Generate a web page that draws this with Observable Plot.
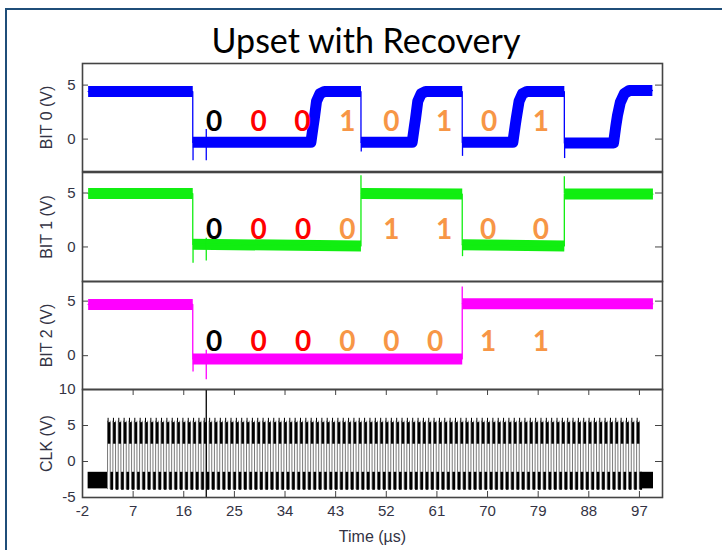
<!DOCTYPE html>
<html><head><meta charset="utf-8">
<script src="https://cdn.jsdelivr.net/npm/d3@7"></script>
<script src="https://cdn.jsdelivr.net/npm/@observablehq/plot@0.6"></script>
<style>
html,body{margin:0;padding:0;background:#fff;overflow:hidden;}
#page{position:relative;width:722px;height:550px;overflow:hidden;background:#fff;}
#border{position:absolute;left:5px;top:8px;width:800px;height:700px;border:2.5px solid #1F4E79;}
#title{position:absolute;left:0;width:732px;top:20px;line-height:40px;text-align:center;font-family:Lato,sans-serif;font-size:34px;color:#000;}
</style></head>
<body><div id="page"><div id="border"></div><div id="title">Upset with Recovery</div></div>
<script>
// ---------- data ----------
const xTicks = [-2, 7, 16, 25, 34, 43, 52, 61, 70, 79, 88, 97];
const bitTicks = [0, 5];
const clkTicks = [-5, 0, 5, 10];

// [segment, time (µs), volts] – centre of the noisy trace
const bit0Trace = [
  [0, -1.0, 4.4], [0, 17.6, 4.4],
  [1, 17.6, -0.3], [1, 38.6, -0.3], [1, 39.0, 1.2], [1, 39.2, 1.9], [1, 39.6, 3.5], [1, 40.2, 4.2], [1, 41.0, 4.4], [1, 47.5, 4.4],
  [2, 47.5, -0.3], [2, 56.6, -0.3], [2, 57.0, 1.2], [2, 57.2, 1.9], [2, 57.6, 3.5], [2, 58.2, 4.2], [2, 59.0, 4.4], [2, 65.5, 4.4],
  [3, 65.5, -0.3], [3, 74.5, -0.3], [3, 74.9, 1.2], [3, 75.1, 1.9], [3, 75.6, 3.5], [3, 76.2, 4.2], [3, 77.0, 4.4], [3, 83.65, 4.4],
  [4, 83.65, -0.35], [4, 92.4, -0.35], [4, 92.8, 1.2], [4, 93.1, 2.2], [4, 93.6, 3.4], [4, 94.3, 4.2], [4, 95.2, 4.5], [4, 99.3, 4.5]
];
// [time, from V, to V] – glitches
const bit0Spikes = [[17.65, -0.3, -2.0], [20.0, -2.0, 0.9], [47.55, -0.3, -1.2], [65.55, -0.3, -1.6], [83.7, -0.35, -1.8]];

const bit1Trace = [
  [0, -1.0, 4.95], [0, 17.6, 4.95],
  [1, 17.6, 0.25], [1, 47.5, 0.1],
  [2, 47.5, 4.95], [2, 65.5, 4.9],
  [3, 65.5, 0.2], [3, 83.65, 0.1],
  [4, 83.65, 4.9], [4, 99.4, 4.9]
];
const bit1Spikes = [[17.65, 0.2, -1.5], [20.0, -1.3, 0.8], [47.5, 4.9, 6.6], [65.55, 0.2, -0.9], [83.65, 4.9, 6.5]];

const bit2Trace = [
  [0, -1.0, 4.7], [0, 17.6, 4.7],
  [1, 17.6, -0.3], [1, 65.5, -0.3],
  [2, 65.5, 4.75], [2, 99.4, 4.75]
];
const bit2Spikes = [[17.65, -0.3, -1.5], [20.0, -2.2, 0.5], [65.5, 4.7, 6.3]];

// clock
const clkIdle = [[-1.0, 2.45], [97.1, 99.5]];
const clkIdleBand = [-3.8, -1.5];
const clkStart = 2.45, clkStop = 97.1, clkPeriod = 0.95;
const clkHighBand = [2.4, 5.4];
const clkLowBand = [-4.0, -1.5];
const clkEdgeSpan = [-3.9, 5.6];
const clkOvershoot = 6.0;
const markerTime = 20.0;

// bit labels
const digitColors = ["#000000", "#FF0000", "#FF0000", "#F79646", "#F79646", "#F79646", "#F79646", "#F79646"];
const bit0Digits = ["0", "0", "0", "1", "0", "1", "0", "1"];
const bit0DigitTimes = [21.4, 29.3, 37.1, 45.1, 52.9, 62.3, 70.3, 79.5];
const bit0DigitV = 1.6;
const bit1Digits = ["0", "0", "0", "0", "1", "1", "0", "0"];
const bit1DigitTimes = [21.4, 29.3, 37.2, 45.1, 52.9, 62.3, 70.1, 79.5];
const bit1DigitV = 1.55;
const bit2Digits = ["0", "0", "0", "0", "0", "0", "1", "1"];
const bit2DigitTimes = [21.4, 29.3, 37.2, 45.1, 52.9, 60.7, 70.1, 79.5];
const bit2DigitV = 1.25;

// ---------- drawing ----------
const page = document.getElementById("page");
const W = 722, ML = 82, MR = 60, FW = W - ML - MR;
const xDomain = [-2, 101.1];
const fontAxis = "'Liberation Sans', Arial, sans-serif";
const axisColor = "#333344";

function traceMarks(trace, spikes, color) {
  return [
    Plot.line(trace, {x: d => d[1], y: d => d[2], z: d => d[0], stroke: color, strokeWidth: 11, strokeLinecap: "butt", strokeLinejoin: "round"}),
    Plot.line(trace, {x: d => d[1], y: d => d[2], stroke: color, strokeWidth: 1.3}),
    Plot.ruleX(spikes, {x: d => d[0], y1: d => d[1], y2: d => d[2], stroke: color, strokeWidth: 1.3})
  ];
}
function digitMarks(digits, times, v) {
  return Plot.text(digits, {
    x: (d, i) => times[i], y: () => v, text: d => d,
    fill: (d, i) => digitColors[i], fontSize: 28, fontWeight: "bold",
    fontFamily: "Lato, sans-serif", textAnchor: "middle", lineAnchor: "middle"
  });
}

function panel({top, h, yDomain, yTicks, label, marks, xAxis}) {
  const mt = 3, mb = xAxis ? 52 : 3;
  const fh = h;
  const extra = [];
  if (xAxis) {
    extra.push(
      Plot.tickX(xTicks, {x: d => d, insetTop: fh - 6, stroke: "#444"}),
      Plot.tickX(xTicks, {x: d => d, insetBottom: fh - 6, stroke: "#444"}),
      Plot.axisX({ticks: xTicks, tickSize: 0, tickPadding: 8, fontSize: 15, fill: axisColor,
        tickFormat: d => String(d), label: null}),
      Plot.axisX({ticks: [], fontSize: 16, fill: axisColor,
        label: "Time (µs)", labelAnchor: "center", labelArrow: "none", labelOffset: 44})
    );
  }
  const svg = Plot.plot({
    width: W, height: fh + mt + mb,
    marginLeft: ML, marginRight: MR, marginTop: mt, marginBottom: mb,
    style: {fontFamily: fontAxis, background: "transparent", overflow: "visible"},
    x: {domain: xDomain, axis: null},
    y: {domain: yDomain, axis: null},
    marks: [
      ...marks,
      Plot.tickY(yTicks, {y: d => d, insetRight: FW - 6, stroke: "#444"}),
      Plot.tickY(yTicks, {y: d => d, insetLeft: FW - 7, stroke: "#444"}),
      Plot.axisY({ticks: yTicks, tickSize: 0, tickPadding: 7, fontSize: 15, fill: axisColor,
        tickFormat: d => String(d), label: null}),
      Plot.axisY({ticks: [], fontSize: 16, fill: axisColor,
        label, labelAnchor: "center", labelArrow: "none", labelOffset: 42}),
      ...extra,
      Plot.frame({stroke: "#444", strokeWidth: 1.6})
    ]
  });
  svg.style.position = "absolute";
  svg.style.left = "0px";
  svg.style.top = (top - mt) + "px";
  page.appendChild(svg);
}

panel({top: 63, h: 108, yDomain: [-3, 7], yTicks: bitTicks, label: "BIT 0 (V)",
  marks: [...traceMarks(bit0Trace, bit0Spikes, "#0000FF"), digitMarks(bit0Digits, bit0DigitTimes, bit0DigitV)]});
panel({top: 172, h: 109, yDomain: [-3.2, 6.9], yTicks: bitTicks, label: "BIT 1 (V)",
  marks: [...traceMarks(bit1Trace, bit1Spikes, "#11EE11"), digitMarks(bit1Digits, bit1DigitTimes, bit1DigitV)]});
panel({top: 281, h: 108, yDomain: [-3.1, 6.8], yTicks: bitTicks, label: "BIT 2 (V)",
  marks: [...traceMarks(bit2Trace, bit2Spikes, "#FF00FF"), digitMarks(bit2Digits, bit2DigitTimes, bit2DigitV)]});

const rising = d3.range(clkStart, clkStop, clkPeriod);
const falling = rising.map(t => t + clkPeriod / 2);
panel({top: 389, h: 108, yDomain: [-5, 10], yTicks: clkTicks, label: "CLK (V)", xAxis: true,
  marks: [
    Plot.rect(clkIdle, {x1: d => d[0], x2: d => d[1], y1: clkIdleBand[0], y2: clkIdleBand[1], fill: "black"}),
    Plot.ruleX(rising, {x: d => d, y1: clkEdgeSpan[0], y2: clkEdgeSpan[1], stroke: "#7a7a7a", strokeWidth: 1}),
    Plot.ruleX(falling, {x: d => d, y1: clkEdgeSpan[0], y2: clkEdgeSpan[1], stroke: "#7a7a7a", strokeWidth: 1}),
    Plot.ruleX(rising, {x: d => d + 0.1, y1: clkHighBand[1], y2: clkOvershoot, stroke: "black", strokeWidth: 1}),
    Plot.ruleX(rising, {x: d => d + clkPeriod * 0.28, y1: clkHighBand[0], y2: clkHighBand[1], stroke: "black", strokeWidth: 2.6}),
    Plot.ruleX(falling, {x: d => d + clkPeriod * 0.28, y1: clkLowBand[0], y2: clkLowBand[1], stroke: "black", strokeWidth: 2.6}),
    Plot.ruleX([markerTime], {x: d => d, stroke: "black", strokeWidth: 1.3})
  ]});
</script>
</body></html>
